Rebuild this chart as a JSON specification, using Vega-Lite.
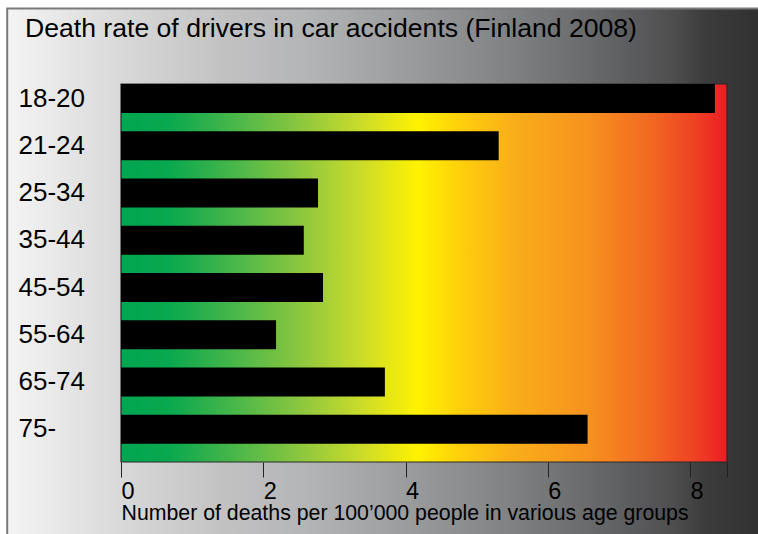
{
  "$schema": "https://vega.github.io/schema/vega-lite/v6.json",
  "width": 606,
  "height": 378,
  "autosize": {"type": "none"},
  "padding": {"left": 121, "top": 84, "right": 31, "bottom": 72},
  "background": "white",
  "config": {"font": "Liberation Sans", "view": {"stroke": null}},
  "title": {
    "text": "Death rate of drivers in car accidents (Finland 2008)",
    "anchor": "start",
    "frame": "group",
    "dx": -96,
    "dy": 28,
    "offset": -28,
    "baseline": "alphabetic",
    "font": "Liberation Sans",
    "fontSize": 26.6,
    "fontWeight": "normal",
    "color": "#000000",
    "zindex": 5
  },
  "datasets": {
    "frame": [{"x": -1.6, "x2": 9.3, "y": 1.2, "y2": -0.3}],
    "plot": [{"x": 0, "x2": 8.52, "y": 0, "y2": 1}],
    "rates": [
      {"age": "18-20", "rate": 8.35},
      {"age": "21-24", "rate": 5.31},
      {"age": "25-34", "rate": 2.77},
      {"age": "35-44", "rate": 2.57},
      {"age": "45-54", "rate": 2.84},
      {"age": "55-64", "rate": 2.18},
      {"age": "65-74", "rate": 3.71},
      {"age": "75-", "rate": 6.56}
    ]
  },
  "layer": [
    {
      "data": {"name": "frame"},
      "mark": {
        "type": "rect",
        "clip": false,
        "stroke": "#7a7a7a",
        "strokeWidth": 2,
        "fill": {
          "gradient": "linear", "x1": 0, "y1": 0, "x2": 1, "y2": 0,
          "stops": [
            {"offset": 0, "color": "#f4f4f4"},
            {"offset": 0.15, "color": "#d8d8d8"},
            {"offset": 0.28, "color": "#c2c2c3"},
            {"offset": 0.39, "color": "#b3b4b6"},
            {"offset": 0.52, "color": "#9a9b9d"},
            {"offset": 0.65, "color": "#808183"},
            {"offset": 0.78, "color": "#626365"},
            {"offset": 0.86, "color": "#4e4e4f"},
            {"offset": 0.9, "color": "#3c3c3c"},
            {"offset": 1, "color": "#2c2c2c"}
          ]
        }
      },
      "encoding": {
        "x": {"field": "x", "type": "quantitative", "scale": {"domain": [0, 8.52], "nice": false, "zero": false}, "axis": null},
        "x2": {"field": "x2"},
        "y": {"field": "y", "type": "quantitative", "scale": {"domain": [0, 1], "nice": false, "zero": false}, "axis": null},
        "y2": {"field": "y2"}
      }
    },
    {
      "data": {"name": "plot"},
      "mark": {
        "type": "rect",
        "stroke": "#2a2a2a",
        "strokeWidth": 1.2,
        "fill": {
          "gradient": "linear", "x1": 0, "y1": 0, "x2": 1, "y2": 0,
          "stops": [
            {"offset": 0, "color": "#00a651"},
            {"offset": 0.08, "color": "#0aa84f"},
            {"offset": 0.2, "color": "#50b848"},
            {"offset": 0.3, "color": "#8fc73e"},
            {"offset": 0.4, "color": "#cddc29"},
            {"offset": 0.49, "color": "#fff200"},
            {"offset": 0.56, "color": "#fecf0c"},
            {"offset": 0.65, "color": "#f9ad19"},
            {"offset": 0.77, "color": "#f6921e"},
            {"offset": 0.87, "color": "#f26a21"},
            {"offset": 0.95, "color": "#ee4024"},
            {"offset": 1, "color": "#ed1c24"}
          ]
        }
      },
      "encoding": {
        "x": {"field": "x", "type": "quantitative", "scale": {"domain": [0, 8.52], "nice": false, "zero": false}, "axis": null},
        "x2": {"field": "x2"},
        "y": {"field": "y", "type": "quantitative", "scale": {"domain": [0, 1], "nice": false, "zero": false}, "axis": null},
        "y2": {"field": "y2"}
      }
    },
    {
      "data": {"name": "rates"},
      "mark": {"type": "bar", "color": "#000000"},
      "encoding": {
        "y": {
          "field": "age", "type": "nominal", "sort": null,
          "scale": {"paddingInner": 0.386, "paddingOuter": 0.193, "align": 0},
          "axis": {
            "title": null, "domain": false, "ticks": false, "zindex": 5,
            "labelAlign": "left", "labelPadding": 103,
            "labelFontSize": 26, "labelColor": "#000000", "labelFont": "Liberation Sans"
          }
        },
        "x": {
          "field": "rate", "type": "quantitative",
          "scale": {"domain": [0, 8.52], "nice": false, "zero": false},
          "axis": {
            "zindex": 5,
            "values": [0, 2, 4, 6, 8, 8.52],
            "labelExpr": "datum.value > 8.1 ? '' : datum.label",
            "domain": false, "grid": false,
            "tickSize": 15, "tickColor": "#222222", "tickWidth": 1,
            "labelAlign": "left", "labelPadding": 2, "labelFontSize": 23.5,
            "labelColor": "#000000", "labelFont": "Liberation Sans", "labelFlush": false, "labelOverlap": false, "labelBound": false,
            "title": "Number of deaths per 100’000 people in various age groups",
            "titleFont": "Liberation Sans", "titleFontSize": 21.3, "titleFontWeight": "normal", "titleColor": "#000000",
            "titleAnchor": "start", "titleAlign": "left", "titleBaseline": "alphabetic", "titleX": 0, "titleY": 57
          }
        }
      }
    }
  ],
  "resolve": {"scale": {"y": "independent"}, "axis": {"x": "independent"}}
}
